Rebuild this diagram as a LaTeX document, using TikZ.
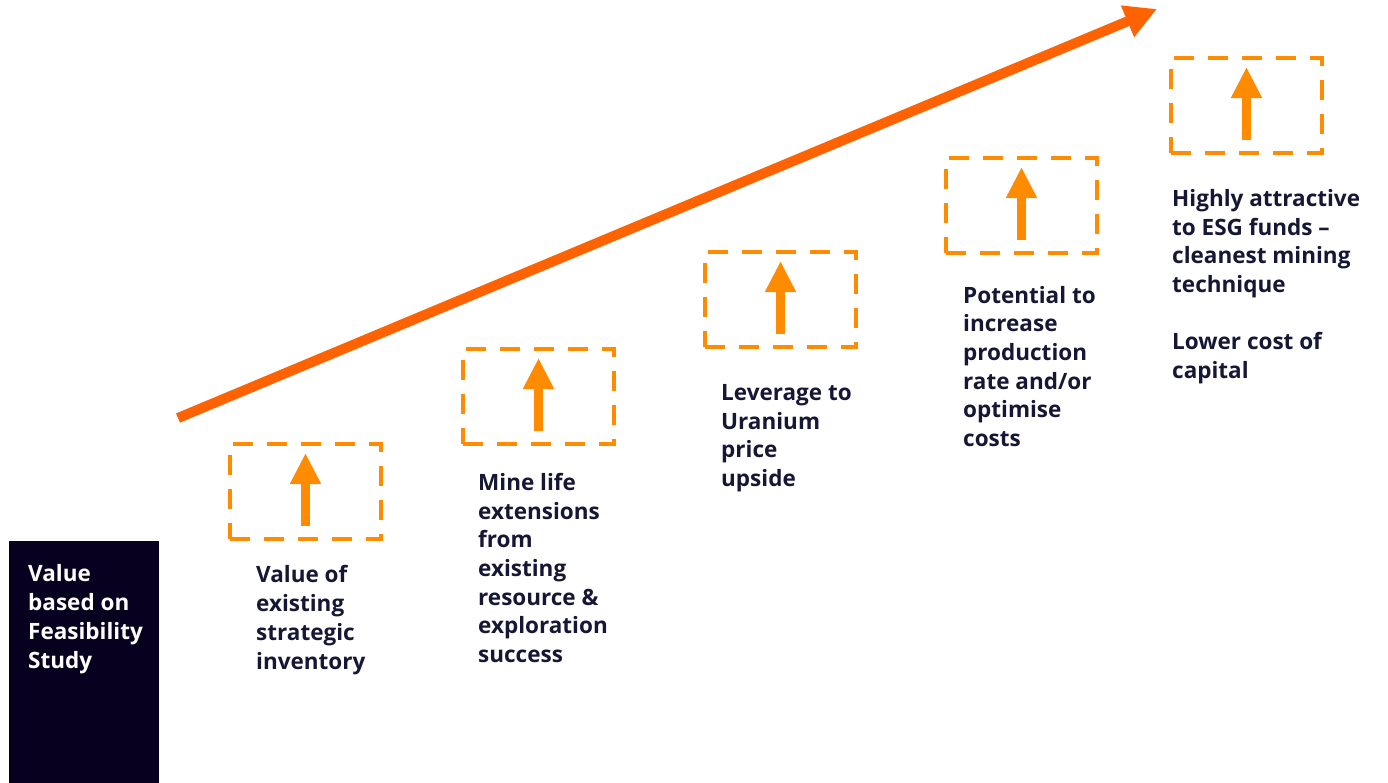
\documentclass[tikz,border=0pt]{standalone}
\usepackage{fontspec}
\setmainfont{Open Sans}
\usetikzlibrary{arrows.meta}
\definecolor{navy}{HTML}{07001F}
\definecolor{txt}{HTML}{161635}
\definecolor{dorange}{HTML}{FF8C00}
\definecolor{bigorange}{HTML}{FF6200}
\tikzset{
  dbox/.style={draw=dorange, line width=4.5pt, dash pattern=on 20pt off 14pt, outer sep=0pt},
  uparrow/.style={draw=dorange, line width=9pt, -{Triangle[length=31pt,width=29pt]}},
  lbl/.style={anchor=base west, inner sep=0pt, align=left, text=txt,
    font=\fontsize{22.5}{28.7}\selectfont\bfseries},
  bigarrow/.style={draw=bigorange, line width=10pt, -{Triangle[length=32pt,width=32pt]}},
}
\begin{document}
\begin{tikzpicture}[x=1pt,y=-1pt]
\useasboundingbox (0,0) rectangle (1388,782);
% dark base box
\node[fill=navy, minimum width=150pt, minimum height=242pt, inner sep=0pt, outer sep=0pt, anchor=north west] (base) at (9,541) {};
% (base west anchor = baseline of the last line)
\node[lbl, text=white] (basetxt) at (28,668) {Value\\based on\\Feasibility\\Study};
% big arrow
\coordinate (bs) at (178,418);
\coordinate (be) at (1157,9);
\draw[bigarrow] (bs) -- (be);
% dashed boxes with arrows
\foreach \n/\x/\y in {1/230/444, 2/463/349, 3/705/252, 4/946/158, 5/1171/58}{
  \node[dbox, minimum width=151pt, minimum height=95pt, inner sep=0pt, anchor=north west] (box\n) at (\x,\y) {};
  \coordinate (ab\n) at ([yshift=13pt]box\n.south);
  \coordinate (at\n) at ([yshift=-9pt]box\n.north);
  \draw[uparrow] (ab\n) -- (at\n);
}
% labels
\node[lbl] (l1) at (256,669) {Value of\\existing\\strategic\\inventory};
\node[lbl] (l2) at (478,662.5) {Mine life\\extensions\\from\\existing\\resource \&\\exploration\\success};
\node[lbl] (l3) at (721,486.5) {Leverage to\\Uranium\\price\\upside};
\node[lbl] (l4) at (963,446.5) {Potential to\\increase\\production\\rate and/or\\optimise\\costs};
\node[lbl] (l5) at (1172,378.5) {Highly attractive\\to ESG funds –\\cleanest mining\\technique\\ \strut\\Lower cost of\\capital};
\end{tikzpicture}
\end{document}
